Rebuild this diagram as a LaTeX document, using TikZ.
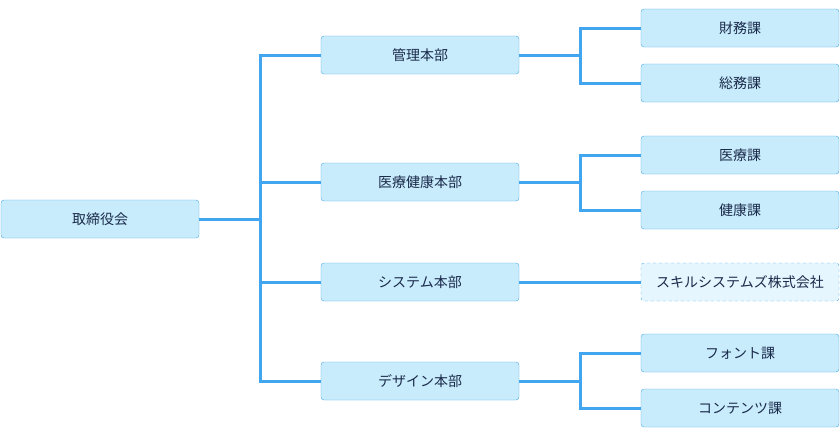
\documentclass[tikz,border=0pt]{standalone}
\usepackage{fontspec}
\newfontfamily\jp{Noto Sans CJK JP}
\definecolor{boxfill}{HTML}{C8ECFC}
\definecolor{boxline}{HTML}{4AA8E8}
\definecolor{wire}{HTML}{42A5F0}
\definecolor{ink}{HTML}{1A2A4A}
\begin{document}
\begin{tikzpicture}[x=1pt, y=-1pt,
  unit/.style={draw=boxline, fill=boxfill, rounded corners=3pt, minimum width=198pt,
    minimum height=38pt, inner sep=0pt, text=ink, font=\jp\fontsize{14}{16}\selectfont},
  firm/.style={unit, dashed, fill=boxfill!45},
  link/.style={draw=wire, line width=3pt}]
\useasboundingbox (0,0) rectangle (840,437);

% ---------- Root ----------
\node[unit] (root) at (100,219) {取締役会};

% ---------- Divisions ----------
\node[unit] (hq1) at (420,55) {管理本部};
\node[unit] (hq2) at (420,182) {医療健康本部};
\node[unit] (hq3) at (420,282) {システム本部};
\node[unit] (hq4) at (420,381) {デザイン本部};

% ---------- Sections ----------
\node[unit] (sec1) at (740,28) {財務課};
\node[unit] (sec2) at (740,83) {総務課};
\node[unit] (sec3) at (740,155) {医療課};
\node[unit] (sec4) at (740,210) {健康課};
\node[firm] (sec5) at (740,282) {スキルシステムズ株式会社};
\node[unit] (sec6) at (740,353) {フォント課};
\node[unit] (sec7) at (740,408) {コンテンツ課};

% Bus points
\coordinate (busR) at (260,219);
\coordinate (bus1) at (580,55);
\coordinate (bus2) at (580,182);
\coordinate (bus4) at (580,381);

% Connectors
\draw[link] (root) -- (busR);
\foreach \h in {hq1,hq2,hq3,hq4}
  \draw[link] (busR) |- (\h);

\draw[link] (hq1) -- (bus1);
\draw[link] (bus1) |- (sec1);
\draw[link] (bus1) |- (sec2);

\draw[link] (hq2) -- (bus2);
\draw[link] (bus2) |- (sec3);
\draw[link] (bus2) |- (sec4);

\draw[link] (hq3) -- (sec5);

\draw[link] (hq4) -- (bus4);
\draw[link] (bus4) |- (sec6);
\draw[link] (bus4) |- (sec7);

\end{tikzpicture}
\end{document}
